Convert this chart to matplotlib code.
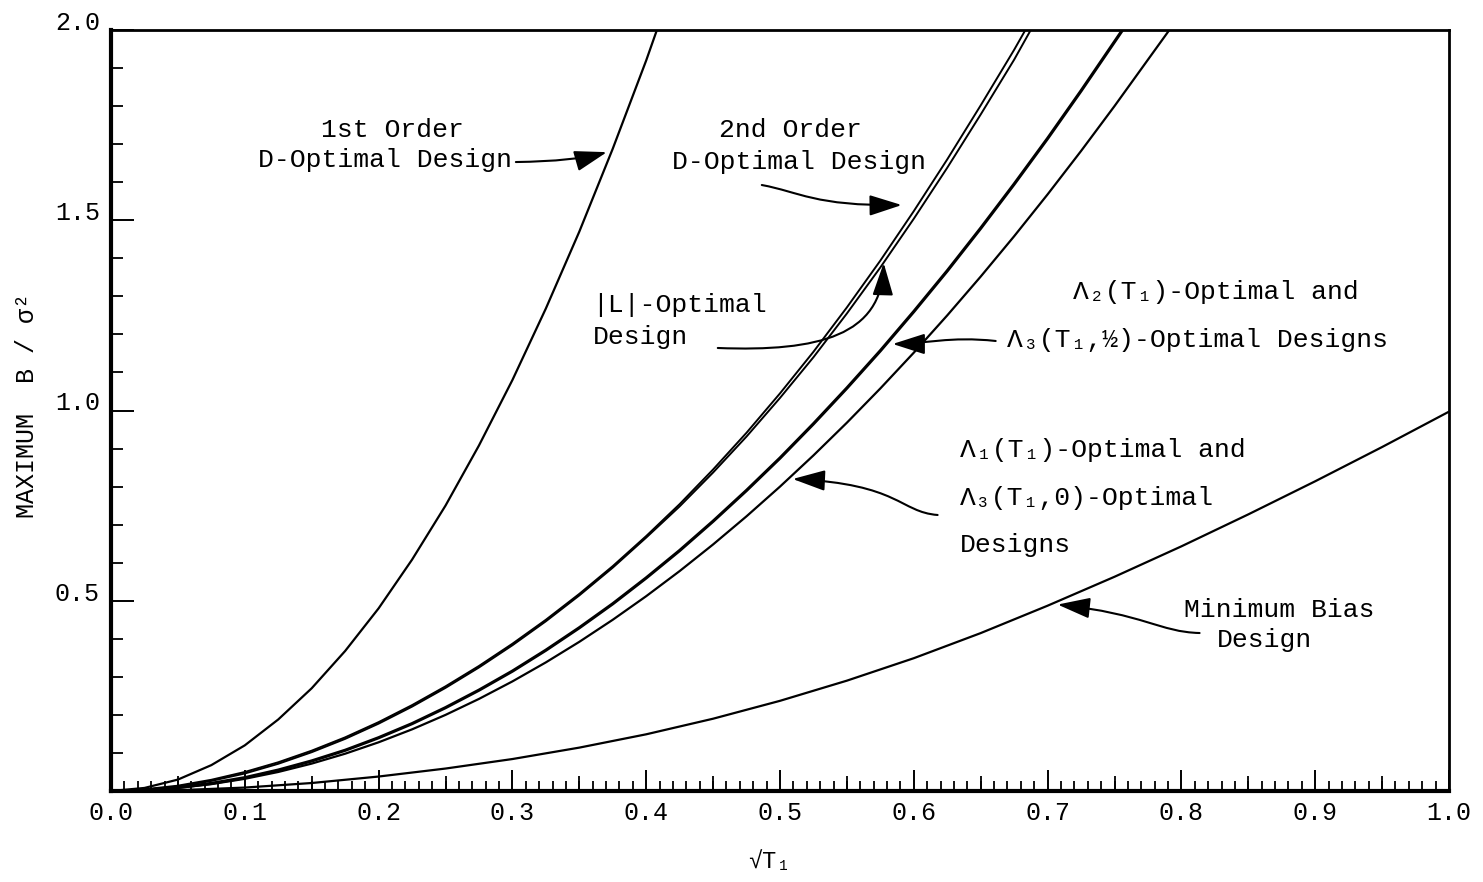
import matplotlib
matplotlib.use("Agg")
import matplotlib.pyplot as plt
from matplotlib.path import Path
from matplotlib.patches import FancyArrowPatch
from matplotlib.ticker import MultipleLocator, FixedLocator, FormatStrFormatter

MONO = ["Liberation Mono", "DejaVu Sans Mono"]
plt.rcParams["font.family"] = MONO

# ---- curves: maximum B / sigma^2 against sqrt(T1) ----
x_first = [0, 0.025, 0.05, 0.075, 0.1, 0.125, 0.15, 0.175, 0.2, 0.225, 0.25,
           0.275, 0.3, 0.325, 0.35, 0.375, 0.4, 0.408]
y_first = [0, 0.008, 0.03, 0.068, 0.12, 0.188, 0.27, 0.368, 0.48, 0.608, 0.75,
           0.908, 1.08, 1.268, 1.47, 1.688, 1.92, 2.0]

x_second = [0, 0.025, 0.05, 0.075, 0.1, 0.125, 0.15, 0.175, 0.2, 0.225, 0.25,
            0.275, 0.3, 0.325, 0.35, 0.375, 0.4, 0.425, 0.45, 0.475, 0.5,
            0.525, 0.55, 0.575, 0.6, 0.625, 0.65, 0.675, 0.6834]
y_second = [0, 0.0045, 0.014, 0.0295, 0.05, 0.0755, 0.106, 0.141, 0.181, 0.2257, 0.275,
            0.3286, 0.387, 0.45, 0.518, 0.591, 0.67, 0.754, 0.845, 0.9416, 1.045,
            1.1543, 1.271, 1.394, 1.524, 1.66, 1.802, 1.948, 2.0]

x_L = [0, 0.025, 0.05, 0.075, 0.1, 0.125, 0.15, 0.175, 0.2, 0.225, 0.25,
       0.275, 0.3, 0.325, 0.35, 0.375, 0.4, 0.425, 0.45, 0.475, 0.5,
       0.525, 0.55, 0.575, 0.6, 0.625, 0.65, 0.675, 0.6874]
y_L = [0, 0.0035, 0.012, 0.0265, 0.046, 0.0715, 0.102, 0.137, 0.177, 0.2217, 0.271,
       0.3246, 0.383, 0.446, 0.514, 0.587, 0.666, 0.748, 0.837, 0.9316, 1.033,
       1.140, 1.255, 1.376, 1.504, 1.638, 1.778, 1.922, 2.0]

x_lam2 = [0, 0.025, 0.05, 0.075, 0.1, 0.125, 0.15, 0.175, 0.2, 0.225, 0.25,
          0.275, 0.3, 0.325, 0.35, 0.375, 0.4, 0.425, 0.45, 0.475, 0.5,
          0.525, 0.55, 0.575, 0.6, 0.625, 0.65, 0.675, 0.7, 0.725, 0.75, 0.756]
y_lam2 = [0, 0.002, 0.009, 0.02, 0.035, 0.055, 0.079, 0.107, 0.14, 0.177, 0.219,
          0.265, 0.315, 0.37, 0.429, 0.492, 0.56, 0.632, 0.709, 0.79, 0.875,
          0.965, 1.059, 1.157, 1.26, 1.367, 1.479, 1.595, 1.715, 1.84, 1.969, 2.0]

x_lam1 = [0, 0.025, 0.05, 0.075, 0.1, 0.125, 0.15, 0.175, 0.2, 0.225, 0.25,
          0.275, 0.3, 0.325, 0.35, 0.375, 0.4, 0.425, 0.45, 0.475, 0.5,
          0.525, 0.55, 0.575, 0.6, 0.625, 0.65, 0.675, 0.7, 0.725, 0.75,
          0.775, 0.791]
y_lam1 = [0, 0.002, 0.008, 0.018, 0.032, 0.05, 0.072, 0.098, 0.128, 0.162, 0.2,
          0.242, 0.288, 0.338, 0.392, 0.45, 0.512, 0.578, 0.648, 0.722, 0.8,
          0.882, 0.968, 1.058, 1.152, 1.25, 1.352, 1.458, 1.568, 1.682, 1.8,
          1.922, 2.0]

x_minbias = [0, 0.05, 0.1, 0.15, 0.2, 0.25, 0.3, 0.35, 0.4, 0.45, 0.5,
             0.55, 0.6, 0.65, 0.7, 0.75, 0.8, 0.85, 0.9, 0.95, 1.0]
y_minbias = [0, 0.002, 0.009, 0.021, 0.038, 0.059, 0.084, 0.114, 0.149, 0.19, 0.237,
             0.29, 0.349, 0.415, 0.487, 0.563, 0.643, 0.727, 0.814, 0.904, 0.997]

x_ticks = [0.0, 0.1, 0.2, 0.3, 0.4, 0.5, 0.6, 0.7, 0.8, 0.9, 1.0]
x_mid_ticks = [0.05, 0.15, 0.25, 0.35, 0.45, 0.55, 0.65, 0.75, 0.85, 0.95]
y_ticks = [0.5, 1.0, 1.5, 2.0]

fig = plt.figure(figsize=(14.83, 8.82), dpi=100)
ax = fig.add_axes([111 / 1483, 1 - 791 / 882, 1338 / 1483, 761 / 882])

ink = "black"
ax.plot(x_first, y_first, color=ink, lw=1.6, solid_capstyle="butt")
ax.plot(x_second, y_second, color=ink, lw=1.4, solid_capstyle="butt")
ax.plot(x_L, y_L, color=ink, lw=1.4, solid_capstyle="butt")
ax.plot(x_lam2, y_lam2, color=ink, lw=2.3, solid_capstyle="butt")
ax.plot(x_lam1, y_lam1, color=ink, lw=1.6, solid_capstyle="butt")
ax.plot(x_minbias, y_minbias, color=ink, lw=1.6, solid_capstyle="butt")

ax.set_xlim(0, 1.0)
ax.set_ylim(0, 2.0)

# ---- frame and ticks ----
for side in ("left", "bottom"):
    ax.spines[side].set_linewidth(3.0)
for side in ("top", "right"):
    ax.spines[side].set_linewidth(2.0)

ax.xaxis.set_major_locator(FixedLocator(x_ticks))
ax.xaxis.set_minor_locator(MultipleLocator(0.01))
ax.xaxis.set_major_formatter(FormatStrFormatter("%.1f"))
ax.yaxis.set_major_locator(FixedLocator(y_ticks))
ax.yaxis.set_minor_locator(MultipleLocator(0.1))
ax.yaxis.set_major_formatter(FormatStrFormatter("%.1f"))

ax.tick_params(axis="x", which="major", direction="in", length=15, width=1.4,
               labelsize=18, pad=7)
ax.tick_params(axis="x", which="minor", direction="in", length=7.2, width=1.3)
ax.tick_params(axis="y", which="major", direction="in", length=16.5, width=1.4,
               labelsize=18, pad=8)
ax.tick_params(axis="y", which="minor", direction="in", length=8.6, width=1.3)
for lab in ax.get_yticklabels():
    lab.set_verticalalignment("baseline")

sec = ax.secondary_xaxis("bottom")
sec.set_xticks(x_mid_ticks)
sec.set_xticklabels([])
sec.tick_params(direction="in", length=10.8, width=1.3)
sec.spines["bottom"].set_visible(False)

fig.text(27 / 1483, 1 - 405 / 882, "MAXIMUM  B / σ²", rotation=90,
         ha="center", va="center", fontsize=18)
fig.text(769 / 1483, 1 - 862 / 882, "√T₁", ha="center", va="center",
         fontsize=17)

# ---- labels ----
fs = 19
ax.text(0.2107, 1.737, "1st Order", ha="center", va="center", fontsize=fs)
ax.text(0.2051, 1.658, "D-Optimal Design", ha="center", va="center", fontsize=fs)
ax.text(0.508, 1.737, "2nd Order", ha="center", va="center", fontsize=fs)
ax.text(0.514, 1.653, "D-Optimal Design", ha="center", va="center", fontsize=fs)
ax.text(0.3594, 1.277, "|L|-Optimal", ha="left", va="center", fontsize=fs)
ax.text(0.3600, 1.193, "Design", ha="left", va="center", fontsize=fs)
ax.text(0.7187, 1.312, "Λ₂(T₁)-Optimal and", ha="left", va="center", fontsize=fs)
ax.text(0.6700, 1.185, "Λ₃(T₁,½)-Optimal Designs", ha="left", va="center", fontsize=fs)
ax.text(0.6347, 0.896, "Λ₁(T₁)-Optimal and", ha="left", va="center", fontsize=fs)
ax.text(0.6347, 0.769, "Λ₃(T₁,0)-Optimal", ha="left", va="center", fontsize=fs)
ax.text(0.6347, 0.6465, "Designs", ha="left", va="center", fontsize=fs)
ax.text(0.8734, 0.4757, "Minimum Bias", ha="center", va="center", fontsize=fs)
ax.text(0.8618, 0.3968, "Design", ha="center", va="center", fontsize=fs)

# ---- curved pointer arrows ----
head = "-|>,head_length=1.0,head_width=0.32"


def pointer(points, codes):
    arrow = FancyArrowPatch(path=Path(points, codes), arrowstyle=head,
                            mutation_scale=20, lw=1.5, color=ink,
                            transform=ax.transData, clip_on=False)
    ax.add_patch(arrow)


C3 = [Path.MOVETO, Path.CURVE3, Path.CURVE3]
C4 = [Path.MOVETO, Path.CURVE4, Path.CURVE4, Path.CURVE4]

pointer([(0.3026, 1.653), (0.3467, 1.655), (0.3706, 1.679)], C3)
pointer([(0.4864, 1.5926), (0.5148, 1.5742), (0.5259, 1.5374), (0.5910, 1.5400)], C4)
pointer([(0.4535, 1.1643), (0.5297, 1.1538), (0.5760, 1.1984), (0.5775, 1.3876)], C4)
pointer([(0.6612, 1.1827), (0.6268, 1.1958), (0.6081, 1.1748), (0.5842, 1.1748)], C4)
pointer([(0.6178, 0.7254), (0.5895, 0.7332), (0.5895, 0.8068), (0.5095, 0.8200)], C4)
pointer([(0.8136, 0.4152), (0.7837, 0.4179), (0.7725, 0.4652), (0.7075, 0.4900)], C4)

fig.savefig("out.png", dpi=100)
